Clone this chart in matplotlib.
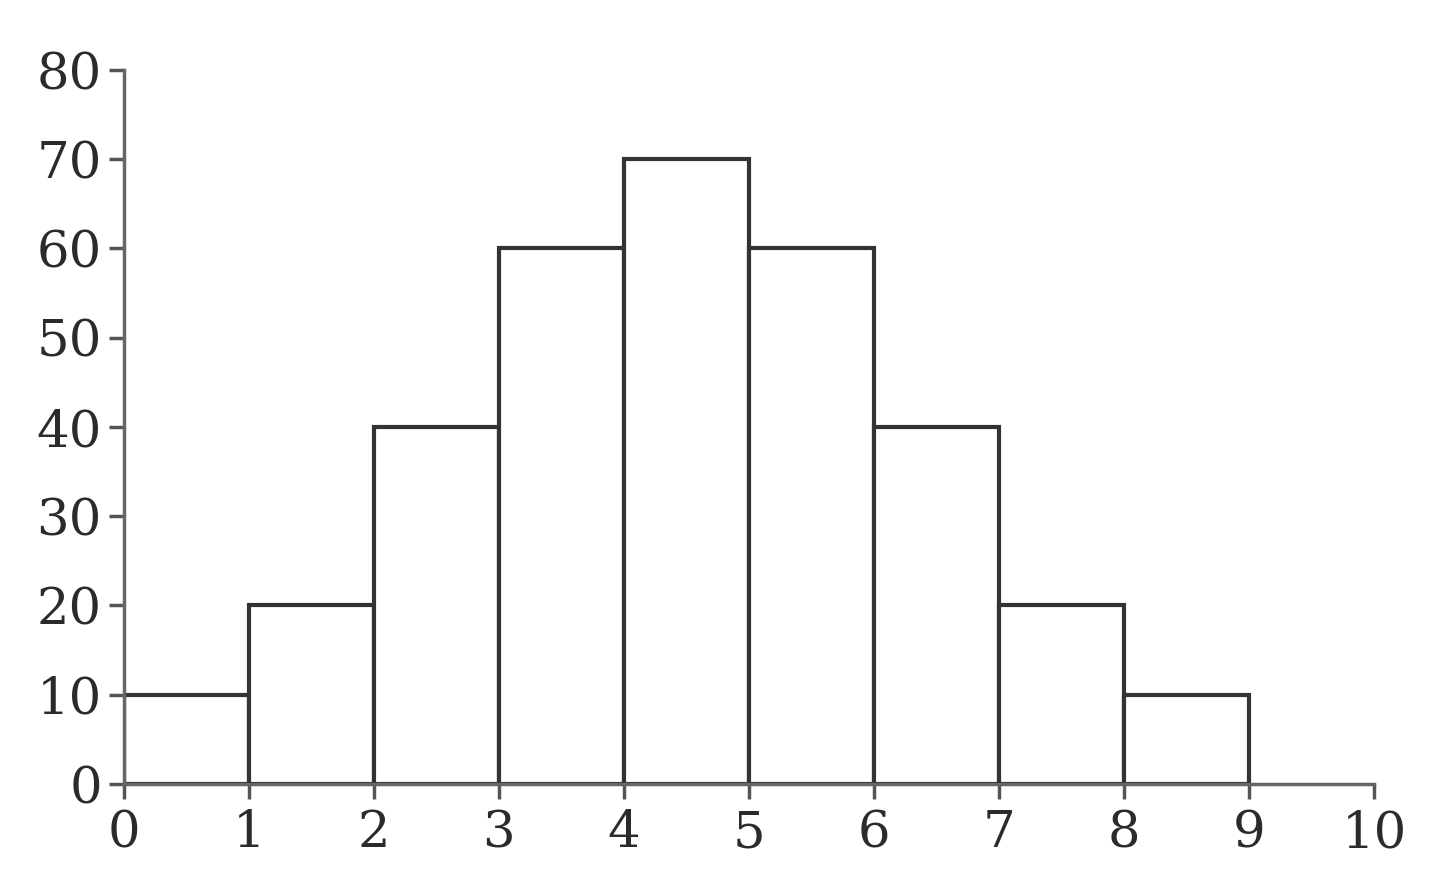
import numpy as np
import matplotlib.pyplot as plt

# histogram data
bin_edges = [0, 1, 2, 3, 4, 5, 6, 7, 8, 9]
counts = [10, 20, 40, 60, 70, 60, 40, 20, 10]
x_ticks = [0, 1, 2, 3, 4, 5, 6, 7, 8, 9, 10]
y_ticks = [0, 10, 20, 30, 40, 50, 60, 70, 80]

plt.rcParams['font.family'] = ['DejaVu Serif', 'Liberation Serif']

fig = plt.figure(figsize=(14.4, 8.74), dpi=100)
ax = fig.add_axes([0.0861, 0.103, 0.868, 0.817])

ax.bar(bin_edges[:-1], counts, width=1, align='edge',
       facecolor='white', edgecolor='#333333', linewidth=3)

ax.set_xlim(0, 10)
ax.set_ylim(0, 80)
ax.set_xticks(x_ticks)
ax.set_yticks(y_ticks)

for side in ['top', 'right']:
    ax.spines[side].set_visible(False)
for side in ['left', 'bottom']:
    ax.spines[side].set_color('#666666')
    ax.spines[side].set_linewidth(2.5)

ax.tick_params(axis='both', direction='out', length=11, width=2.5,
               color='#555555', labelsize=37, labelcolor='#2b2b2b')
ax.tick_params(axis='y', pad=5)
ax.tick_params(axis='x', pad=7)

plt.savefig('out.png', dpi=100)
